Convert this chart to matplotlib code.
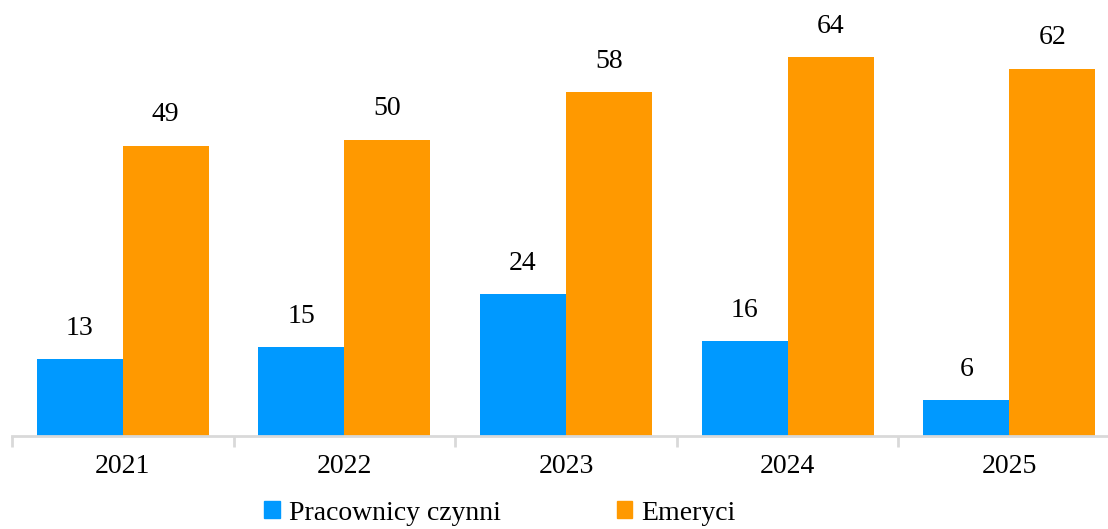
import matplotlib.pyplot as plt
import numpy as np
from matplotlib.patches import Patch

# data
years = ['2021', '2022', '2023', '2024', '2025']
pracownicy = [13, 15, 24, 16, 6]
emeryci = [49, 50, 58, 64, 62]

blue = '#0099FF'
orange = '#FF9900'
axis_gray = '#D9D9D9'

plt.rcParams['font.family'] = ['Liberation Serif', 'DejaVu Serif']

fig = plt.figure(figsize=(11.08, 5.29), dpi=100)
ax = fig.add_axes([12 / 1108, 93 / 529, 1.0, 436 / 529])

x = np.arange(len(years))
w = 0.388
b1 = ax.bar(x - w / 2, pracownicy, w, color=blue)
b2 = ax.bar(x + w / 2, emeryci, w, color=orange)

for bars, vals in [(b1, pracownicy), (b2, emeryci)]:
    for r, v in zip(bars, vals):
        ax.text(r.get_x() + r.get_width() / 2, v + 5.2, str(v),
                ha='center', va='center', fontsize=20)

ax.set_xlim(-0.5, len(years) - 0.5)
ax.set_ylim(0, 73.6)

ax.set_xticks(x)
ax.set_xticklabels(years, fontsize=20)
ax.set_xticks(np.arange(len(years) + 1) - 0.5, minor=True)
ax.tick_params(axis='x', which='major', length=0, pad=13)
ax.tick_params(axis='x', which='minor', length=8, width=2, color=axis_gray)
ax.set_yticks([])

for s in ['top', 'right', 'left']:
    ax.spines[s].set_visible(False)
ax.spines['bottom'].set_color(axis_gray)
ax.spines['bottom'].set_linewidth(2)

handles = [Patch(color=blue, label='Pracownicy czynni'),
           Patch(color=orange, label='Emeryci')]
fig.legend(handles=handles, loc='center', bbox_to_anchor=(0.4513, 0.03), ncol=2,
           frameon=False, fontsize=20, handlelength=0.55, handleheight=0.55,
           handletextpad=0.32, columnspacing=4.2, borderpad=0, borderaxespad=0)

fig.savefig('out.png', dpi=100)
